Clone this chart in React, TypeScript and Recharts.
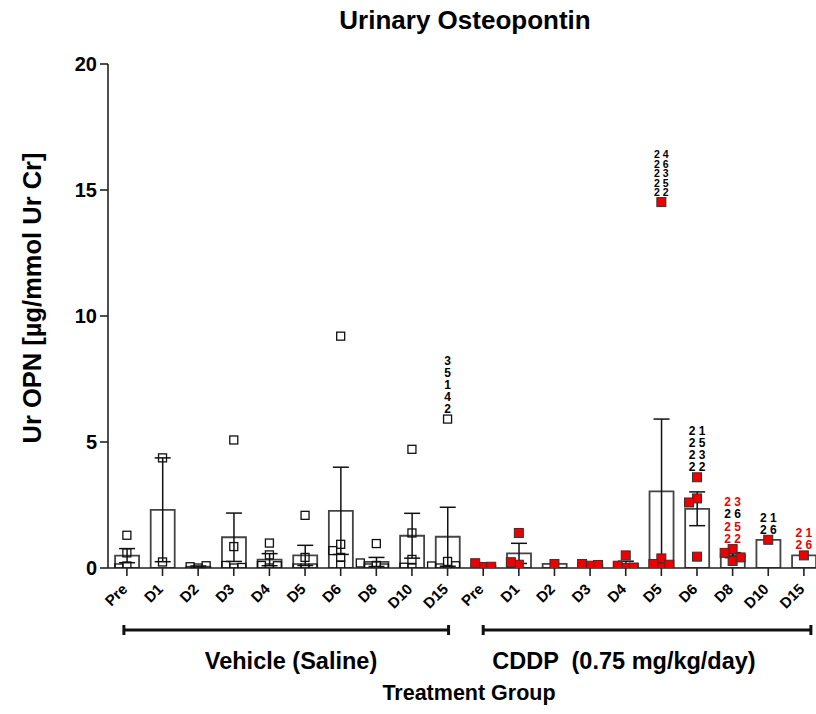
import React from 'react';
import { ComposedChart, Bar, Scatter, XAxis, YAxis, ErrorBar } from 'recharts';

// ---------- data ----------
const days = ['Pre', 'D1', 'D2', 'D3', 'D4', 'D5', 'D6', 'D8', 'D10', 'D15'];
const groupNames = ['Vehicle (Saline)', 'CDDP  (0.75 mg/kg/day)'];
const chartTitle = 'Urinary Osteopontin';
const yTitle = 'Ur OPN [\u00b5g/mmol Ur Cr]';
const xTitle = 'Treatment Group';
const yTicks = [0, 5, 10, 15, 20];

const vehicleMean = [0.49, 2.31, 0.05, 1.22, 0.33, 0.5, 2.27, 0.24, 1.28, 1.24];
const vehicleSem = [0.28, 2.06, 0.03, 0.96, 0.24, 0.4, 1.73, 0.18, 0.89, 1.17];
const cddpMean = [0.09, 0.58, 0.16, 0.12, 0.16, 3.04, 2.35, 0.51, 1.12, 0.5];
const cddpSem = [0.05, 0.4, null, 0.02, 0.11, 2.87, 0.67, 0.1, null, null];

const vehiclePoints = [
  [1.3, 0.6, 0.08, 0.0],
  [4.37, 0.24],
  [0.0, 0.05, 0.09],
  [5.08, 0.85, 0.0, 0.1, 0.02],
  [0.99, 0.52, 0.0, 0.1, 0.09],
  [2.09, 0.42, 0.0, 0.0, 0.0],
  [9.2, 0.94, 0.42, 0.69, 0.12],
  [0.97, 0.1, 0.0, 0.0, 0.2],
  [4.71, 1.39, 0.34, 0.0, 0.03],
  [5.91, 0.26, 0.0, 0.09, 0.08],
];

const cddpPoints = [
  [0.04, 0.19, 0.05],
  [1.39, 0.13, 0.23],
  [0.16],
  [0.09, 0.16, 0.12],
  [0.5, 0.01, 0.09, 0.02],
  [14.52, 0.38, 0.02, 0.16, 0.13],
  [3.6, 2.76, 2.6, 0.45],
  [0.75, 0.28, 0.6, 0.42],
  [1.12],
  [0.5],
];

// animal-ID annotations above the highest point (group 0 = vehicle, 1 = CDDP)
const annotationGroup = [0, 1, 1, 1, 1, 1];
const annotationDay = [9, 5, 6, 7, 8, 9];
const annotationTop = [5.91, 14.52, 3.6, 0.75, 1.12, 0.5];
const annotationIds = [
  ['3', '5', '1', '4', '2'],
  ['2 4', '2 6', '2 3', '2 5', '2 2'],
  ['2 1', '2 5', '2 3', '2 2'],
  ['2 3', '2 6', '2 5', '2 2'],
  ['2 1', '2 6'],
  ['2 1', '2 6'],
];
const annotationRed = [
  [false, false, false, false, false],
  [false, false, false, false, false],
  [false, false, false, false],
  [true, false, true, true],
  [false, false],
  [true, true],
];

// ---------- layout / style ----------
const W = 816;
const H = 714;
const PLOT_LEFT = 108;
const PLOT_TOP = 64;
const PLOT_BOTTOM = 568;
const X_MIN = -0.53;
const X_MAX = 19.34;
const Y_MAX = 20;
const PX_PER_X = (W - PLOT_LEFT) / (X_MAX - X_MIN);
const PX_PER_Y = (PLOT_BOTTOM - PLOT_TOP) / Y_MAX;
const FONT = '"Liberation Sans", Arial, Helvetica, sans-serif';
const RED = '#ee0000';
const annotationRowGap = [12, 9.5, 12, 12.5, 11.5, 12];
const annotationFont = [12, 10.5, 12, 12, 12, 12];

const px = (i: number) => PLOT_LEFT + (i - X_MIN) * PX_PER_X;

// simple beeswarm: spread points whose squares would overlap
function swarm(values: number[]): number[] {
  const step = 8 / PX_PER_X;
  const minDist = 7.5;
  const order = [0, -1, 1, -2, 2, -3, 3];
  const placed: { dx: number; v: number }[] = [];
  return values.map((v) => {
    for (const k of order) {
      const dx = k * step;
      const ok = placed.every(
        (p) => Math.hypot((p.dx - dx) * PX_PER_X, (p.v - v) * PX_PER_Y) >= minDist
      );
      if (ok) {
        placed.push({ dx, v });
        return dx;
      }
    }
    placed.push({ dx: 0, v });
    return 0;
  });
}

const barRows = [
  ...days.map((d, i) => ({ x: i, mean: vehicleMean[i], sem: vehicleSem[i] })),
  ...days.map((d, i) => ({ x: 10 + i, mean: cddpMean[i], sem: cddpSem[i] })),
];

const makePoints = (pts: number[][], base: number) =>
  pts.flatMap((vals, i) => {
    const off = swarm(vals);
    return vals.map((v, j) => ({ px: base + i + off[j], y: v }));
  });

const vehicleScatter = makePoints(vehiclePoints, 0);
const cddpScatter = makePoints(cddpPoints, 10);

const annotationData = annotationIds.map((ids, k) => ({
  px: annotationGroup[k] * 10 + annotationDay[k],
  y: annotationTop[k],
  k,
}));

const OpenSquare = (p: any) => (
  <rect x={p.cx - 4} y={p.cy - 4} width={8} height={8} fill="none" stroke="#111" strokeWidth={1.3} />
);
const RedSquare = (p: any) => (
  <rect x={p.cx - 4.5} y={p.cy - 4.5} width={9} height={9} fill={RED} stroke="#333" strokeWidth={1} />
);
const AnnotationShape = (p: any) => {
  const k = p.payload.k;
  const ids = annotationIds[k];
  const gap = annotationRowGap[k];
  const n = ids.length;
  return (
    <g>
      {ids.map((t, j) => (
        <text
          key={j}
          x={p.cx}
          y={p.cy - 6 - (n - 1 - j) * gap}
          textAnchor="middle"
          fontSize={annotationFont[k]}
          fontWeight="bold"
          fontFamily={FONT}
          fill={annotationRed[k][j] ? RED : '#000'}
        >
          {t}
        </text>
      ))}
    </g>
  );
};

const XTick = (p: any) => {
  const label = days[Math.round(p.payload.value) % 10];
  const ax = p.x + 1.5;
  const ay = 590;
  return (
    <text
      x={ax}
      y={ay}
      transform={`rotate(-45 ${ax} ${ay})`}
      textAnchor="end"
      fontSize={15}
      fontWeight="bold"
      fontFamily={FONT}
      fill="#000"
    >
      {label}
    </text>
  );
};

const YTick = (p: any) => (
  <text x={p.x} y={p.y} dy={7} textAnchor="end" fontSize={20} fontWeight="bold" fontFamily={FONT} fill="#000">
    {p.payload.value}
  </text>
);

const tickIdx = Array.from({ length: 20 }, (_, i) => i);

export default function App() {
  const brackets = [
    [px(0) - 3, px(9) + 1],
    [px(10), px(19) + 7],
  ];
  return (
    <div style={{ position: 'absolute', left: 0, top: 0, width: W, height: H, background: '#fff' }}>
      <ComposedChart
        width={W}
        height={H}
        data={barRows}
        margin={{ top: PLOT_TOP, right: 0, bottom: H - PLOT_BOTTOM - 30, left: 0 }}
      >
        <XAxis
          xAxisId="bars"
          type="number"
          dataKey="x"
          domain={[X_MIN, X_MAX]}
          allowDataOverflow
          ticks={tickIdx}
          interval={0}
          height={30}
          tickSize={8}
          tick={<XTick />}
          axisLine={{ stroke: '#222', strokeWidth: 1.6 }}
          tickLine={{ stroke: '#222', strokeWidth: 1.6 }}
        />
        <XAxis
          xAxisId="pts"
          type="number"
          dataKey="px"
          domain={[X_MIN, X_MAX]}
          allowDataOverflow
          hide
        />
        <YAxis
          type="number"
          domain={[0, Y_MAX]}
          ticks={yTicks}
          allowDataOverflow
          width={PLOT_LEFT}
          tickSize={8}
          tickMargin={3}
          tick={<YTick />}
          axisLine={{ stroke: '#222', strokeWidth: 1.6 }}
          tickLine={{ stroke: '#222', strokeWidth: 1.6 }}
        />
        <Bar
          xAxisId="bars"
          dataKey="mean"
          barSize={24}
          fill="#fff"
          stroke="#444"
          strokeWidth={1.8}
          isAnimationActive={false}
        >
          <ErrorBar dataKey="sem" width={8} stroke="#111" strokeWidth={1.5} direction="y" />
        </Bar>
        <Scatter xAxisId="pts" data={vehicleScatter} dataKey="y" shape={OpenSquare} isAnimationActive={false} />
        <Scatter xAxisId="pts" data={cddpScatter} dataKey="y" shape={RedSquare} isAnimationActive={false} />
        <Scatter xAxisId="pts" data={annotationData} dataKey="y" shape={AnnotationShape} isAnimationActive={false} />
      </ComposedChart>
      <svg
        width={W}
        height={H}
        style={{ position: 'absolute', left: 0, top: 0, pointerEvents: 'none' }}
      >
        <text x={465} y={29} textAnchor="middle" fontSize={26} fontWeight="bold" fontFamily={FONT} fill="#000">
          {chartTitle}
        </text>
        <text
          x={41}
          y={298}
          transform="rotate(-90 41 298)"
          textAnchor="middle"
          fontSize={25.5}
          fontWeight="bold"
          fontFamily={FONT}
          fill="#000"
        >
          {yTitle}
        </text>
        {brackets.map(([a, b], i) => (
          <g key={i} stroke="#111" strokeWidth={3}>
            <line x1={a} x2={b} y1={630} y2={630} />
            <line x1={a} x2={a} y1={625} y2={635} />
            <line x1={b} x2={b} y1={625} y2={635} />
          </g>
        ))}
        <text x={291} y={669} textAnchor="middle" fontSize={23.5} fontWeight="bold" fontFamily={FONT} fill="#000">
          {groupNames[0]}
        </text>
        <text x={624} y={669} textAnchor="middle" fontSize={23.5} fontWeight="bold" fontFamily={FONT} fill="#000" style={{ whiteSpace: 'pre' }}>
          {groupNames[1]}
        </text>
        <text x={469} y={700} textAnchor="middle" fontSize={21.5} fontWeight="bold" fontFamily={FONT} fill="#000">
          {xTitle}
        </text>
      </svg>
    </div>
  );
}
